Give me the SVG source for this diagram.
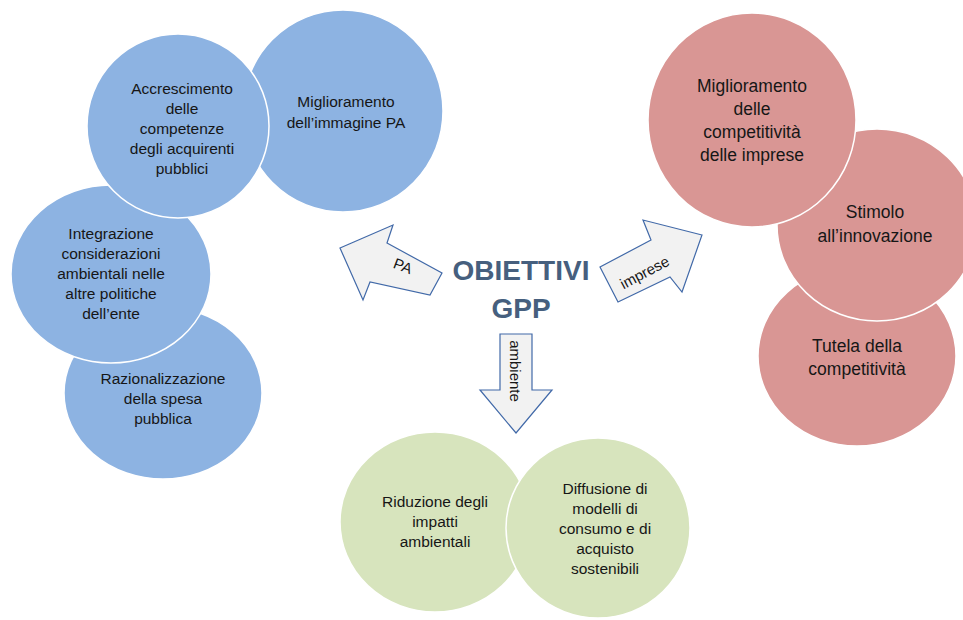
<svg xmlns="http://www.w3.org/2000/svg" width="963" height="620" viewBox="0 0 963 620">
  <style>
    .blue { fill: #8DB3E2; stroke: #ffffff; stroke-width: 1.5; }
    .red { fill: #D99694; stroke: #ffffff; stroke-width: 1.5; }
    .green { fill: #D7E4BD; stroke: #ffffff; stroke-width: 1.5; }
    .lbl { font-family: "Liberation Sans", Arial, sans-serif; font-size: 15.5px; fill: #161616; text-anchor: middle; }
    .lbl-lg { font-size: 17.5px; }
    .title { font-family: "Liberation Sans", Arial, sans-serif; font-weight: bold; font-size: 28px; fill: #465F7E; text-anchor: middle; }
    .arrow { fill: #F2F2F2; stroke: #4169A8; stroke-width: 1.2; stroke-linejoin: miter; }
    .arrow-lbl { font-family: "Liberation Sans", Arial, sans-serif; font-size: 15px; fill: #161616; text-anchor: middle; }
  </style>

  <rect width="963" height="620" fill="#ffffff"/>

  <!-- Public administration goals (blue) -->
  <g id="pa-razionalizzazione">
    <ellipse class="blue" cx="163" cy="393" rx="99" ry="86"/>
    <text class="lbl" x="163" y="384">Razionalizzazione</text>
    <text class="lbl" x="163" y="404">della spesa</text>
    <text class="lbl" x="163" y="424">pubblica</text>
  </g>
  <g id="pa-integrazione">
    <ellipse class="blue" cx="111" cy="274" rx="100" ry="89"/>
    <text class="lbl" x="111" y="239">Integrazione</text>
    <text class="lbl" x="111" y="259">considerazioni</text>
    <text class="lbl" x="111" y="279">ambientali nelle</text>
    <text class="lbl" x="111" y="299">altre politiche</text>
    <text class="lbl" x="111" y="319">dell’ente</text>
  </g>
  <g id="pa-immagine">
    <ellipse class="blue" cx="343" cy="111" rx="100" ry="101"/>
    <text class="lbl" x="346" y="107">Miglioramento</text>
    <text class="lbl" x="346" y="128">dell’immagine PA</text>
  </g>
  <g id="pa-competenze">
    <ellipse class="blue" cx="178" cy="126" rx="91" ry="92"/>
    <text class="lbl" x="182" y="94">Accrescimento</text>
    <text class="lbl" x="182" y="114">delle</text>
    <text class="lbl" x="182" y="134">competenze</text>
    <text class="lbl" x="182" y="154">degli acquirenti</text>
    <text class="lbl" x="182" y="174">pubblici</text>
  </g>

  <!-- Business goals (red) -->
  <g id="imprese-tutela">
    <ellipse class="red" cx="857" cy="356" rx="99" ry="90"/>
    <text class="lbl lbl-lg" x="857" y="352">Tutela della</text>
    <text class="lbl lbl-lg" x="857" y="375">competitività</text>
  </g>
  <g id="imprese-stimolo">
    <ellipse class="red" cx="877" cy="225" rx="100" ry="96"/>
    <text class="lbl lbl-lg" x="875" y="218">Stimolo</text>
    <text class="lbl lbl-lg" x="875" y="242">all’innovazione</text>
  </g>
  <g id="imprese-competitivita">
    <ellipse class="red" cx="752" cy="120" rx="104" ry="107"/>
    <text class="lbl lbl-lg" x="752" y="92">Miglioramento</text>
    <text class="lbl lbl-lg" x="752" y="115">delle</text>
    <text class="lbl lbl-lg" x="752" y="138">competitività</text>
    <text class="lbl lbl-lg" x="752" y="161">delle imprese</text>
  </g>

  <!-- Environmental goals (green) -->
  <g id="ambiente-riduzione">
    <ellipse class="green" cx="435" cy="522" rx="95" ry="90"/>
    <text class="lbl" x="435" y="507">Riduzione degli</text>
    <text class="lbl" x="435" y="527">impatti</text>
    <text class="lbl" x="435" y="547">ambientali</text>
  </g>
  <g id="ambiente-diffusione">
    <ellipse class="green" cx="598" cy="528" rx="92" ry="90"/>
    <text class="lbl" x="605" y="494">Diffusione di</text>
    <text class="lbl" x="605" y="514">modelli di</text>
    <text class="lbl" x="605" y="534">consumo e di</text>
    <text class="lbl" x="605" y="554">acquisto</text>
    <text class="lbl" x="605" y="574">sostenibili</text>
  </g>

  <!-- Central title -->
  <g id="obiettivi-gpp">
    <text class="title" x="521" y="280">OBIETTIVI</text>
    <text class="title" x="521" y="318">GPP</text>
  </g>

  <!-- Block arrows from the title to each group -->
  <g id="connectors">
    <g id="arrow-pa">
      <polygon class="arrow" points="340,248 393,225 387,243 442,273 430,295 370,282 363,300"/>
      <text class="arrow-lbl" transform="translate(401,271) rotate(21)">PA</text>
    </g>
    <g id="arrow-imprese">
      <polygon class="arrow" points="702,235 643,220 651,240 600,267 618,302 670,277 682,292"/>
      <text class="arrow-lbl" transform="translate(647,277) rotate(-28)">imprese</text>
    </g>
    <g id="arrow-ambiente">
      <polygon class="arrow" points="500,334 532,334 532,390 552,390 516,433 480,390 500,390"/>
      <text class="arrow-lbl" transform="translate(510,371) rotate(90)">ambiente</text>
    </g>
  </g>
</svg>
